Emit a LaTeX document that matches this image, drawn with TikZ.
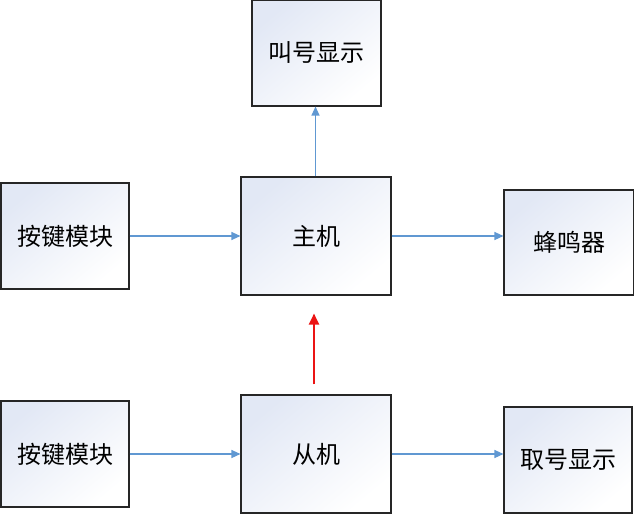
\documentclass[tikz,border=0pt]{standalone}
\usepackage{fontspec}
\setmainfont{Noto Sans CJK SC}
\usetikzlibrary{arrows.meta,shadows}
\definecolor{lineblue}{RGB}{96,152,210}
\definecolor{boxtop}{RGB}{226,232,245}
\definecolor{redarrow}{RGB}{235,20,20}
\tikzset{
  blk/.style={draw=black!85, line width=1.1pt, shading=axis, top color=boxtop, bottom color=white, shading angle=40,
    drop shadow={shadow xshift=1.2pt, shadow yshift=-1.2pt, fill=black!35, opacity=0.6},
    font=\fontsize{24}{26}\selectfont, inner sep=0pt, anchor=center},
  conn/.style={draw=lineblue, line width=1.2pt, -{Triangle[length=9pt,width=8pt]}},
  redconn/.style={draw=redarrow, line width=2pt, -{Triangle[length=11pt,width=10pt]}}
}
\begin{document}
\begin{tikzpicture}[x=1pt,y=-1pt]
\useasboundingbox (0,0) rectangle (634,516);
\node[blk, minimum width=129pt, minimum height=106pt] (call) at (316.5,53) {叫号显示};
\node[blk, minimum width=150pt, minimum height=118pt] (host) at (316,236) {主机};
\node[blk, minimum width=128pt, minimum height=106pt] (key1) at (65,236) {按键模块};
\node[blk, minimum width=130pt, minimum height=105pt] (buzz) at (569,242.5) {蜂鸣器};
\node[blk, minimum width=128pt, minimum height=106pt] (key2) at (65,454) {按键模块};
\node[blk, minimum width=150pt, minimum height=118pt] (slave) at (316,454) {从机};
\node[blk, minimum width=128pt, minimum height=106pt] (take) at (568,460) {取号显示};
\draw[conn] ([xshift=-0.5pt]host.north) -- ([xshift=-0.5pt]host.north |- call.south);
\draw[conn] (key1.east) -- (key1.east -| host.west);
\draw[conn] (host.east) -- (host.east -| buzz.west);
\draw[conn] (key2.east) -- (key2.east -| slave.west);
\draw[conn] (slave.east) -- (slave.east -| take.west);
\draw[redconn, shorten <=10pt, shorten >=18pt] ([xshift=-2pt]slave.north) -- ([xshift=-2pt]host.south);
\end{tikzpicture}
\end{document}
